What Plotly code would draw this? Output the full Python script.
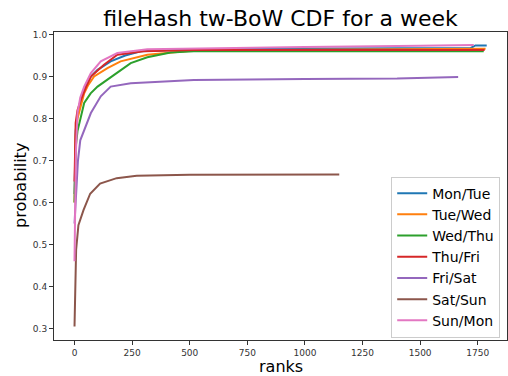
import plotly.graph_objects as go

series_names = ["Mon/Tue", "Tue/Wed", "Wed/Thu", "Thu/Fri", "Fri/Sat", "Sat/Sun", "Sun/Mon"]
colors = ["#1f77b4", "#ff7f0e", "#2ca02c", "#d62728", "#9467bd", "#8c564b", "#e377c2"]

mon_tue_ranks = [0, 2, 5, 13, 28, 42, 71, 100, 157, 220, 287, 400, 518, 800, 1200, 1600, 1720, 1740, 1789]
mon_tue_prob = [0.62, 0.72, 0.77, 0.81, 0.845, 0.87, 0.90, 0.916, 0.936, 0.95, 0.96, 0.963, 0.965, 0.966, 0.967, 0.968, 0.968, 0.974, 0.974]

tue_wed_ranks = [0, 2, 5, 13, 28, 42, 60, 85, 143, 200, 316, 518, 1000, 1500, 1784]
tue_wed_prob = [0.60, 0.70, 0.76, 0.80, 0.835, 0.86, 0.88, 0.90, 0.92, 0.936, 0.952, 0.962, 0.964, 0.965, 0.966]

wed_thu_ranks = [0, 2, 5, 13, 28, 42, 70, 100, 172, 244, 316, 417, 518, 1000, 1500, 1776]
wed_thu_prob = [0.60, 0.68, 0.73, 0.77, 0.805, 0.837, 0.86, 0.876, 0.904, 0.932, 0.946, 0.957, 0.960, 0.960, 0.960, 0.960]

thu_fri_ranks = [0, 2, 5, 13, 28, 50, 71, 128, 186, 300, 518, 1000, 1500, 1780]
thu_fri_prob = [0.65, 0.74, 0.79, 0.82, 0.845, 0.875, 0.90, 0.928, 0.952, 0.96, 0.963, 0.963, 0.963, 0.963]

fri_sat_ranks = [0, 3, 7, 15, 25, 46, 71, 114, 157, 244, 518, 1000, 1400, 1665]
fri_sat_prob = [0.55, 0.58, 0.64, 0.70, 0.748, 0.777, 0.813, 0.853, 0.876, 0.884, 0.892, 0.894, 0.895, 0.899]

sat_sun_ranks = [0, 3, 7, 17, 39, 68, 111, 183, 270, 500, 760, 1149]
sat_sun_prob = [0.305, 0.42, 0.487, 0.546, 0.582, 0.621, 0.645, 0.658, 0.664, 0.666, 0.6665, 0.667]

sun_mon_ranks = [0, 3, 6, 13, 25, 42, 71, 114, 186, 316, 518, 1000, 1500, 1733]
sun_mon_prob = [0.46, 0.62, 0.72, 0.813, 0.85, 0.876, 0.908, 0.936, 0.956, 0.965, 0.967, 0.970, 0.973, 0.975]

all_ranks = [mon_tue_ranks, tue_wed_ranks, wed_thu_ranks, thu_fri_ranks, fri_sat_ranks, sat_sun_ranks, sun_mon_ranks]
all_probs = [mon_tue_prob, tue_wed_prob, wed_thu_prob, thu_fri_prob, fri_sat_prob, sat_sun_prob, sun_mon_prob]

x_ticks = [0, 250, 500, 750, 1000, 1250, 1500, 1750]
y_ticks = [0.3, 0.4, 0.5, 0.6, 0.7, 0.8, 0.9, 1.0]

FONT = "DejaVu Sans"

fig = go.Figure()
for name, col, xr, yp in zip(series_names, colors, all_ranks, all_probs):
    fig.add_trace(go.Scatter(x=xr, y=yp, mode="lines", name=name,
                             line=dict(color=col, width=2)))

axis_common = dict(showgrid=False, zeroline=False, showline=True, linecolor="#333333",
                   linewidth=1, mirror=True, ticks="outside", ticklen=4, tickwidth=1,
                   tickcolor="#333333", automargin=False,
                   tickfont=dict(family=FONT, size=9, color="#333333"))

fig.update_layout(
    width=508, height=376,
    margin=dict(l=54, r=1, t=32, b=36, pad=0),
    paper_bgcolor="white", plot_bgcolor="white",
    font=dict(family=FONT, color="black"),
    title=dict(text="fileHash tw-BoW CDF for a week", x=0.5, xref="paper",
               y=0.952, yref="container", yanchor="middle",
               font=dict(family=FONT, size=22, color="black")),
    xaxis=dict(range=[-89, 1877], tickvals=x_ticks, **axis_common),
    yaxis=dict(range=[0.2727, 1.006], tickvals=y_ticks, tickformat=".1f", **axis_common),
    legend=dict(x=0.985, y=0.008, xanchor="right", yanchor="bottom",
                bgcolor="rgba(255,255,255,0.8)", bordercolor="#cccccc", borderwidth=1,
                font=dict(family=FONT, size=14, color="black"), tracegroupgap=0,
                itemwidth=30),
    annotations=[
        dict(text="ranks", xref="paper", yref="paper", x=0.5, y=0, yshift=-26,
             xanchor="center", yanchor="middle", showarrow=False,
             font=dict(family=FONT, size=16, color="black")),
        dict(text="probability", xref="paper", yref="paper", x=0, y=0.5, xshift=-34,
             xanchor="center", yanchor="middle", textangle=-90, showarrow=False,
             font=dict(family=FONT, size=16, color="black")),
    ],
    showlegend=True,
)

fig.write_html("out.html", config={"displayModeBar": False},
               post_script="document.body.style.margin='0';")
